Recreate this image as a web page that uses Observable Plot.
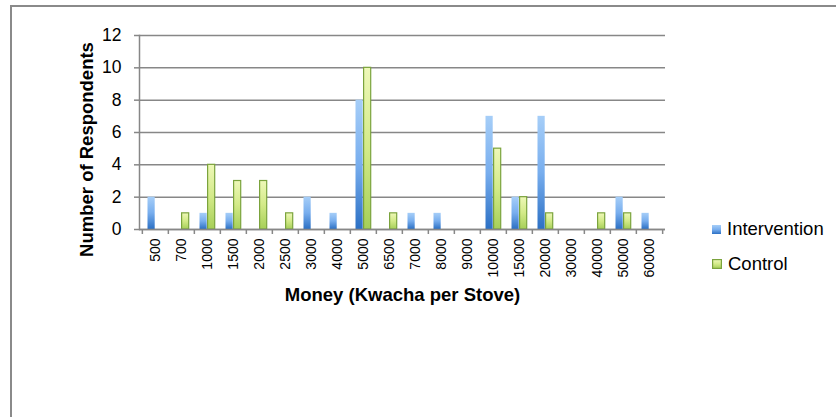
<!DOCTYPE html>
<html><head><meta charset="utf-8">
<script src="https://cdn.jsdelivr.net/npm/d3@7"></script>
<script src="https://cdn.jsdelivr.net/npm/@observablehq/plot@0.6"></script>
<style>
body{margin:0;background:#fff;font-family:"Liberation Sans",Arial,sans-serif;}
#wrap{position:relative;width:836px;height:417px;overflow:hidden;background:#fff;}
#border{position:absolute;left:10px;top:5px;width:900px;height:500px;border-top:2px solid #8a8a8a;border-left:2px solid #8a8a8a;}
#chart{position:absolute;left:0;top:0;}
.leg{position:absolute;left:712px;height:20px;line-height:20px;font-size:18.5px;color:#000;display:flex;align-items:center;white-space:nowrap;}
.leg svg{margin-right:6px;}
</style></head><body>
<svg width="0" height="0" style="position:absolute">
<defs>
<linearGradient id="gBlue" x1="0" y1="0" x2="0" y2="1">
<stop offset="0" stop-color="#a6cef8"/><stop offset="0.5" stop-color="#78aeee"/><stop offset="1" stop-color="#2c70c4"/>
</linearGradient>
<linearGradient id="gGreen" x1="0" y1="0" x2="0" y2="1">
<stop offset="0" stop-color="#eef8b8"/><stop offset="0.5" stop-color="#d3ea88"/><stop offset="1" stop-color="#a6cf58"/>
</linearGradient>
</defs>
</svg>
<div id="wrap"><div id="border"></div><div id="chart"></div>
<div class="leg" id="leg1" style="top:219px"></div>
<div class="leg" id="leg2" style="top:254px"></div>
</div>
<script>
const categories = ["500","700","1000","1500","2000","2500","3000","4000","5000","6500","7000","8000","9000","10000","15000","20000","30000","40000","50000","60000"];
const intervention = [2,0,1,1,0,0,2,1,8,0,1,1,0,7,2,7,0,0,2,1];
const control = [0,1,4,3,3,1,0,0,10,1,0,0,0,5,2,1,0,1,1,0];
const seriesNames = ["Intervention","Control"];
const yTicks = [0,2,4,6,8,10,12];
const xTitle = "Money (Kwacha per Stove)";
const yTitle = "Number of Respondents";

const interData = categories.map((c,i)=>({cat:c, value:intervention[i], series:seriesNames[0]})).filter(d=>d.value>0);
const ctrlData = categories.map((c,i)=>({cat:c, value:control[i], series:seriesNames[1]})).filter(d=>d.value>0);

const W = 836, H = 417, mL = 139, mR = 171, mT = 35, mB = 188;
const bw = (W - mL - mR) / categories.length;
const gray = "#878787";

const chart = Plot.plot({
  width: W, height: H,
  marginLeft: mL, marginRight: mR, marginTop: mT, marginBottom: mB,
  style: {fontFamily: '"Liberation Sans", Arial, sans-serif', background: "transparent", color: "#000"},
  x: {type: "band", domain: categories, padding: 0},
  y: {domain: [0, 12]},
  marks: [
    Plot.gridY(yTicks, {stroke: gray, strokeOpacity: 1, strokeWidth: 1.5}),
    Plot.axisY(yTicks, {tickSize: 5, tickPadding: 13, fontSize: 17.5, stroke: gray, strokeWidth: 1.5, label: null}),
    Plot.axisX({tickSize: 5, tickFormat: () => "", dx: -bw/2, stroke: gray, strokeWidth: 1.5, label: null}),
    Plot.axisX([categories[categories.length-1]], {tickSize: 5, tickFormat: () => "", dx: bw/2, stroke: gray, strokeWidth: 1.5, label: null}),
    Plot.axisX({tickSize: 0, tickPadding: 9, tickRotate: -90, fontSize: 14, label: null}),
    Plot.barY(interData, {x: "cat", y: "value", fill: "url(#gBlue)", insetLeft: 5.5, insetRight: bw - 13}),
    Plot.barY(ctrlData, {x: "cat", y: "value", fill: "url(#gGreen)", stroke: "#7ba33d", strokeWidth: 1.2, insetLeft: 13.6, insetRight: bw - 21}),
    Plot.ruleY([0], {stroke: gray, strokeWidth: 1.5}),
    Plot.frame({anchor: "left", stroke: gray, strokeWidth: 1.5}),
    Plot.text([xTitle], {frameAnchor: "bottom", dy: 71, fontSize: 18.5, fontWeight: "bold", fill: "#000"}),
    Plot.text([yTitle], {frameAnchor: "left", textAnchor: "middle", rotate: -90, dx: -52, dy: 17, fontSize: 18.5, fontWeight: "bold", fill: "#000"})
  ]
});
document.getElementById("chart").appendChild(chart);

document.getElementById("leg1").innerHTML =
  '<svg width="9" height="9"><rect x="0" y="0" width="9" height="9" fill="url(#gBlue)"/></svg><span>' + seriesNames[0] + '</span>';
document.getElementById("leg2").innerHTML =
  '<svg width="10" height="10"><rect x="0.6" y="0.6" width="8.8" height="8.8" fill="url(#gGreen)" stroke="#7ba33d" stroke-width="1.2"/></svg><span>' + seriesNames[1] + '</span>';
</script>
</body></html>
